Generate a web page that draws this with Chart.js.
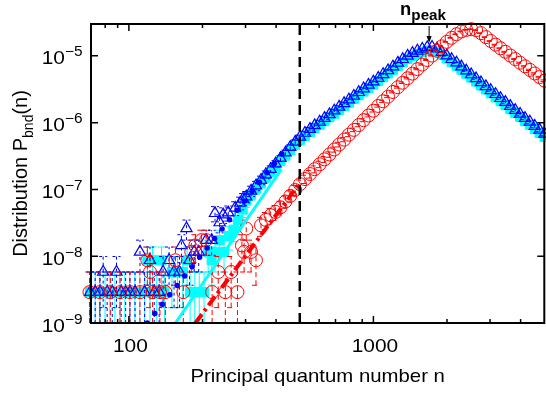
<!DOCTYPE html>
<html><head><meta charset="utf-8">
<script src="https://cdn.jsdelivr.net/npm/chart.js@4.4.1/dist/chart.umd.min.js"></script>
<style>
html,body{margin:0;padding:0;overflow:hidden;background:#fff;width:546px;height:393px}
#wrap{position:relative;width:552px;height:393px}
canvas{position:absolute;left:0;top:0}
</style></head><body><div id="wrap"><canvas id="c" width="552" height="393"></canvas></div>
<script>
// ---- data ----
const UNIT = 2.9e-9; // value of one count (error bars are Poisson)
const gridN = [302,316,331,347,363,380,398,417,437,457,479,501,525,550,575,603,631,661,692,724,759,794,832,871,912,955,1000,1047,1096,1148,1202,1259,1318,1380,1445,1514,1585,1660,1738,1820,1905,1995,2089,2188,2291,2399,2512,2630,2754,2884,3020,3162,3311,3467,3631,3802,3981,4169,4365,4571,4786,5012];
const redHighV = [2.6e-8,1.16e-8,8.7e-9,2.9e-8,3.5e-8,4.1e-8,4.6e-8,5.4e-8,6.6e-8,8.0e-8,9.8e-8,1.2e-7,1.43e-7,1.7e-7,2.01e-7,2.38e-7,2.82e-7,3.34e-7,3.96e-7,4.7e-7,5.57e-7,6.61e-7,7.8e-7,9.2e-7,1.09e-6,1.28e-6,1.51e-6,1.78e-6,2.09e-6,2.45e-6,2.88e-6,3.39e-6,3.96e-6,4.63e-6,5.42e-6,6.34e-6,7.41e-6,8.67e-6,1.01e-5,1.19e-5,1.39e-5,1.62e-5,1.86e-5,2.11e-5,2.32e-5,2.45e-5,2.51e-5,2.43e-5,2.19e-5,1.91e-5,1.67e-5,1.47e-5,1.3e-5,1.15e-5,1.01e-5,8.95e-6,7.9e-6,6.98e-6,6.17e-6,5.45e-6,4.81e-6,4.25e-6];
const blueHighV = [7.8e-8,9.5e-8,1.14e-7,1.38e-7,1.67e-7,2.01e-7,2.43e-7,2.94e-7,3.55e-7,4.29e-7,5.15e-7,6.1e-7,7.0e-7,8.0e-7,9.1e-7,1.03e-6,1.17e-6,1.33e-6,1.51e-6,1.72e-6,1.95e-6,2.21e-6,2.51e-6,2.85e-6,3.24e-6,3.67e-6,4.1e-6,4.65e-6,5.3e-6,6.05e-6,6.9e-6,7.85e-6,8.9e-6,1.0e-5,1.1e-5,1.19e-5,1.27e-5,1.34e-5,1.36e-5,1.28e-5,1.14e-5,1.01e-5,8.9e-6,7.9e-6,6.9e-6,6.0e-6,5.26e-6,4.59e-6,4.0e-6,3.49e-6,3.05e-6,2.66e-6,2.32e-6,2.03e-6,1.77e-6,1.54e-6,1.35e-6,1.17e-6,1.03e-6,8.9e-7,7.8e-7,6.8e-7];
const cyanHighV = [6.8e-8,8.3e-8,1.02e-7,1.24e-7,1.5e-7,1.8e-7,2.2e-7,2.65e-7,3.2e-7,3.85e-7,4.65e-7,5.5e-7,6.3e-7,7.2e-7,8.2e-7,9.3e-7,1.05e-6,1.2e-6,1.36e-6,1.55e-6,1.76e-6,1.99e-6,2.26e-6,2.57e-6,2.92e-6,3.3e-6,3.7e-6,4.2e-6,4.8e-6,5.45e-6,6.2e-6,7.05e-6,8.0e-6,9.0e-6,9.9e-6,1.07e-5,1.14e-5,1.2e-5,1.22e-5,1.15e-5,1.03e-5,9.1e-6,8.0e-6,7.1e-6,6.2e-6,5.4e-6,4.73e-6,4.13e-6,3.6e-6,3.14e-6,2.75e-6,2.39e-6,2.09e-6,1.83e-6,1.59e-6,1.39e-6,1.22e-6,1.05e-6,9.3e-7,8.0e-7,7.0e-7,6.1e-7];

const redLowN = [69,76,84,92,101,111,119,122,125,134,141,155,167,180,187,198,207,219,232,248,262,278,290,296];
const redLowV = [2.9e-9,2.9e-9,2.9e-9,2.9e-9,2.9e-9,2.9e-9,8.7e-9,5.8e-9,2.9e-9,2.9e-9,2.9e-9,8.7e-9,2.9e-9,1.16e-8,1.45e-8,1.74e-8,1.74e-8,2.9e-9,5.8e-9,2.9e-9,5.8e-9,2.9e-9,1.45e-8,1.16e-8];
const blueLowN = [69.4,72.8,76.2,78.5,81.5,85.5,89,93,97,101,106,111,116,122,127,133,138,146,153,161,164,172,177,185,193,207,218,225,235,243,255,272,285,293];
const blueLowV = [2.9e-9,2.9e-9,2.9e-9,5.8e-9,2.9e-9,2.9e-9,5.8e-9,2.9e-9,2.9e-9,2.9e-9,2.9e-9,1.16e-8,2.9e-9,8.7e-9,2.9e-9,2.9e-9,5.8e-9,8.7e-9,5.8e-9,5.8e-9,1.45e-8,2.61e-8,8.7e-9,1.16e-8,1.16e-8,1.74e-8,1.74e-8,4.4e-8,3.2e-8,4.2e-8,4.5e-8,5.3e-8,6.3e-8,7.2e-8];
const cyanLowN = [69.4,72.8,76.2,79.9,83.7,87.7,91.9,96.3,100.9,105.8,110.8,116,119,122,125,130,136,140,150,158,166,173,178,186,194,203,211,218,225,235,245,257,268,280,292];
const cyanLowV = [2.9e-9,2.9e-9,2.9e-9,2.9e-9,2.9e-9,2.9e-9,2.9e-9,2.9e-9,2.9e-9,2.9e-9,2.9e-9,2.9e-9,8.7e-9,2.9e-9,8.7e-9,2.9e-9,8.7e-9,2.9e-9,5.8e-9,5.8e-9,5.8e-9,8.7e-9,2.9e-9,2.9e-9,2.9e-9,2.9e-9,1.16e-8,8.7e-9,1.16e-8,1.74e-8,1.16e-8,2.0e-8,2.5e-8,3.5e-8,5.0e-8];

// fit lines (end points)
const redFitN = [187,500],  redFitV = [1e-9,1.24e-7];
const blueFitN = [119,440], blueFitV = [1e-9,4.1e-7];
const cyanFitN = [155,420], cyanFitV = [1e-9,2.0e-7];
const vlineN = [500,500], vlineV = [1e-9,3e-5];
const peakN = 1690;

// axes / ticks
const xMin = 70, xMax = 5000, yMin = 1e-9, yMax = 3e-5;
const xMajor = [100,1000];
const xTickLabels = ['100','1000'];
const xMinor = [80,90,200,300,400,500,600,700,800,900,2000,3000,4000];
const yTicks = [1e-9,1e-8,1e-7,1e-6,1e-5];
const yTickExp = ['\u22129','\u22128','\u22127','\u22126','\u22125'];

// ---- chart ----
const pts = (ns, vs) => ns.map((n,i)=>({x:n, y:vs[i]}));
const FONT = '"Liberation Sans", Arial, Helvetica, sans-serif';

function txt(ctx, s, x, y, size, align, sx, weight){
  ctx.save(); ctx.translate(x,y); ctx.scale(sx,1);
  ctx.font = (weight||'normal')+' '+size+'px '+FONT; ctx.textAlign = align; ctx.textBaseline='alphabetic';
  ctx.fillText(s,0,0); const w = ctx.measureText(s).width*sx; ctx.restore(); return w;
}
function tw(ctx, s, size, sx){ ctx.save(); ctx.font = size+'px '+FONT; const w = ctx.measureText(s).width*sx; ctx.restore(); return w; }

const errPlugin = {
  id:'err',
  beforeDatasetDraw(chart, args){
    const ds = chart.data.datasets[args.index];
    if(!ds.err) return;
    const ctx = chart.ctx, a = chart.chartArea, X = chart.scales.x, Y = chart.scales.y;
    ctx.save();
    ctx.strokeStyle = ds.err.color; ctx.lineWidth = 1; ctx.setLineDash(ds.err.dash);
    ctx.beginPath();
    ds.data.forEach(p=>{
      const e = Math.sqrt(p.y*UNIT);
      const px = X.getPixelForValue(p.x);
      const yt = Y.getPixelForValue(p.y+e);
      const lo = p.y-e;
      let yb = a.bottom, cap = false;
      if (lo > 0) { const t = Y.getPixelForValue(lo); if (t < a.bottom) { yb = t; cap = true; } }
      ctx.moveTo(px, yb); ctx.lineTo(px, yt);
      ctx.moveTo(px-4, yt); ctx.lineTo(px+4, yt);
      if (cap) { ctx.moveTo(px-4, yb); ctx.lineTo(px+4, yb); }
    });
    ctx.stroke();
    ctx.restore();
  }
};

const framePlugin = {
  id:'frame',
  afterDraw(chart){
    const ctx = chart.ctx, a = chart.chartArea, X = chart.scales.x, Y = chart.scales.y;
    ctx.save();
    ctx.setLineDash([]);
    ctx.strokeStyle = '#000'; ctx.lineWidth = 2;
    ctx.strokeRect(a.left, a.top, a.right-a.left, a.bottom-a.top);
    ctx.lineWidth = 1.5;
    ctx.beginPath();
    xMajor.forEach(v=>{ const px = X.getPixelForValue(v);
      ctx.moveTo(px,a.bottom); ctx.lineTo(px,a.bottom-7); ctx.moveTo(px,a.top); ctx.lineTo(px,a.top+7); });
    xMinor.forEach(v=>{ const px = X.getPixelForValue(v);
      ctx.moveTo(px,a.bottom); ctx.lineTo(px,a.bottom-4); ctx.moveTo(px,a.top); ctx.lineTo(px,a.top+4); });
    yTicks.forEach(v=>{ const py = Y.getPixelForValue(v);
      ctx.moveTo(a.left,py); ctx.lineTo(a.left+7,py); ctx.moveTo(a.right,py); ctx.lineTo(a.right-7,py); });
    ctx.stroke();

    ctx.fillStyle = '#000';
    // x tick labels
    xMajor.forEach((v,i)=>{ txt(ctx, xTickLabels[i], X.getPixelForValue(v)+1.5, 352, 19, 'center', 1.1); });
    // y tick labels 10^e
    yTicks.forEach((v,i)=>{
      const py = Y.getPixelForValue(v);
      const w = txt(ctx, yTickExp[i], 82.5, py+0.5, 14, 'right', 1.1);
      txt(ctx, '10', 82.5-w, py+8.5, 19, 'right', 1.1);
    });
    // x title
    txt(ctx, 'Principal quantum number n', (a.left+a.right)/2, 382, 18.5, 'center', 1.1);
    // y title (rotated) with subscript
    ctx.save();
    ctx.translate(27, (a.top+a.bottom)/2);
    ctx.rotate(-Math.PI/2);
    const s1 = 'Distribution P', s2 = 'bnd', s3 = '(n)';
    const w1 = tw(ctx,s1,20,1), w2 = tw(ctx,s2,14,1), w3 = tw(ctx,s3,20,1);
    let x0 = -(w1+w2+w3)/2;
    txt(ctx, s1, x0, 0, 20, 'left', 1); x0 += w1;
    txt(ctx, s2, x0, 6, 14, 'left', 1); x0 += w2;
    txt(ctx, s3, x0, 0, 20, 'left', 1);
    ctx.restore();
    // n_peak annotation
    const pxp = X.getPixelForValue(peakN);
    const wn = txt(ctx, 'n', pxp-29, 15, 17.5, 'left', 1.05, 'bold');
    txt(ctx, 'peak', pxp-29+wn, 20, 14.5, 'left', 1.05, 'bold');
    ctx.lineWidth = 1;
    ctx.beginPath(); ctx.moveTo(pxp, a.top+2); ctx.lineTo(pxp, a.top+14); ctx.stroke();
    ctx.beginPath(); ctx.moveTo(pxp-2.5, a.top+12); ctx.lineTo(pxp+2.5, a.top+12); ctx.lineTo(pxp, a.top+19); ctx.closePath(); ctx.fill();
    ctx.restore();
  }
};

new Chart(document.getElementById('c'), {
  type: 'scatter',
  data: { datasets: [
    { label:'n = 500', data: pts(vlineN, vlineV), showLine:true, borderColor:'#000', borderWidth:2.5,
      borderDash:[10,6], pointRadius:0, order:0 },
    { label:'red fit', data: pts(redFitN, redFitV), showLine:true, borderColor:'#ff0000', borderWidth:4,
      borderDash:[11,4,3,4], pointRadius:0, order:1 },
    { label:'blue fit', data: pts(blueFitN, blueFitV), showLine:true, borderColor:'#0000ff', borderWidth:5.5,
      borderDash:[0,12], borderCapStyle:'round', pointRadius:0, order:1 },
    { label:'cyan fit', data: pts(cyanFitN, cyanFitV), showLine:true, borderColor:'#00ffff', borderWidth:3,
      pointRadius:0, order:1 },
    { label:'red', data: pts(redLowN.concat(gridN), redLowV.concat(redHighV)), showLine:false,
      pointStyle:'circle', pointRadius:6.5, pointBorderColor:'#ff0000', pointBorderWidth:1,
      pointBackgroundColor:'rgba(0,0,0,0)', borderColor:'#ff0000', order:3, clip:false,
      err:{color:'#ff0000', dash:[5,3]} },
    { label:'blue', data: pts(blueLowN.concat(gridN), blueLowV.concat(blueHighV)), showLine:false,
      pointStyle:'triangle', pointRadius:6.5, pointBorderColor:'#0000ff', pointBorderWidth:1.2,
      pointBackgroundColor:'rgba(0,0,0,0)', borderColor:'#0000ff', order:4, clip:false,
      err:{color:'#0000ff', dash:[3,3]} },
    { label:'cyan', data: pts(cyanLowN.concat(gridN), cyanLowV.concat(cyanHighV)), showLine:false,
      pointStyle:'rect', pointRadius:6.4, pointBorderColor:'#00ffff', pointBorderWidth:1,
      pointBackgroundColor:'#00ffff', borderColor:'#00ffff', order:5, clip:false,
      err:{color:'#00ffff', dash:[]} }
  ]},
  options: {
    responsive:false, animation:false, devicePixelRatio:1,
    layout:{ padding:{ left:91, top:24, right:4, bottom:70 } },
    scales:{
      x:{ type:'logarithmic', min:xMin, max:xMax, display:false },
      y:{ type:'logarithmic', min:yMin, max:yMax, display:false }
    },
    elements:{ line:{ tension:0 } },
    plugins:{ legend:{display:false}, tooltip:{enabled:false} },
    events:[]
  },
  plugins:[errPlugin, framePlugin]
});
</script></body></html>
